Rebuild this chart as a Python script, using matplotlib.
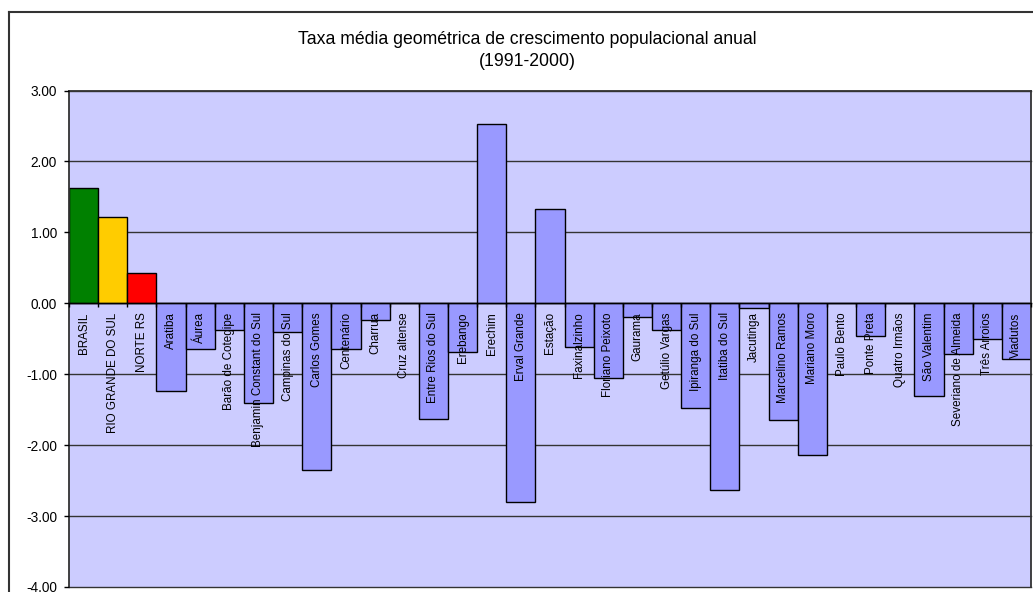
import matplotlib
matplotlib.use('Agg')
import matplotlib.pyplot as plt
from matplotlib.lines import Line2D
import numpy as np

categories = ["BRASIL", "RIO GRANDE DO SUL", "NORTE RS", "Aratiba", "Áurea",
              "Barão de Cotegipe", "Benjamin Constant do Sul", "Campinas do Sul",
              "Carlos Gomes", "Centenário", "Charrua", "Cruz altense",
              "Entre Rios do Sul", "Erebango", "Erechim", "Erval Grande", "Estação",
              "Faxinalzinho", "Floriano Peixoto", "Gaurama", "Getúlio Vargas",
              "Ipiranga do Sul", "Itatiba do Sul", "Jacutinga", "Marcelino Ramos",
              "Mariano Moro", "Paulo Bento", "Ponte Preta", "Quatro Irmãos",
              "São Valentim", "Severiano de Almeida", "Três Arroios", "Viadutos"]
values = [1.63, 1.21, 0.42, -1.24, -0.64,
          -0.38, -1.40, -0.40,
          -2.35, -0.64, -0.24, 0.0,
          -1.63, -0.68, 2.53, -2.80, 1.33,
          -0.61, -1.05, -0.19, -0.38,
          -1.48, -2.63, -0.06, -1.65,
          -2.14, 0.0, -0.46, 0.0,
          -1.31, -0.72, -0.51, -0.78]
highlight_colors = ["#008000", "#FFCC00", "#FF0000"]
default_color = "#9999FF"
yticks = [-4, -3, -2, -1, 0, 1, 2, 3]
title_lines = ["Taxa média geométrica de crescimento populacional anual", "(1991-2000)"]

plt.rcParams['font.family'] = ['Liberation Sans', 'DejaVu Sans']
plt.rcParams['axes.unicode_minus'] = False

W, H = 1033, 592
fig = plt.figure(figsize=(W / 100, H / 100), dpi=100)
fig.patch.set_facecolor('white')

left, right, top, bottom = 69, 1031, 90.5, 587
ax = fig.add_axes([left / W, 1 - bottom / H, (right - left) / W, (bottom - top) / H])
ax.set_facecolor('#CCCCFF')
ax.set_axisbelow(False)

n = len(categories)
x = np.arange(n)
bar_colors = highlight_colors + [default_color] * (n - len(highlight_colors))
ax.bar(x, values, width=1.0, color=bar_colors, edgecolor='black', linewidth=1.0, zorder=2)

for t in yticks:
    ax.axhline(t, color='#333333', lw=1.0, zorder=1, clip_on=False)

ax.set_xlim(-0.5, n - 0.5)
ax.set_ylim(min(yticks), max(yticks))
ax.set_yticks(yticks)
ax.set_yticklabels([f"{t:.2f}" for t in yticks], fontsize=9.8)
ax.tick_params(axis='y', length=3.6, width=1.0, direction='out', pad=5, colors='black')

ax.spines['bottom'].set_position(('data', 0))
ax.spines['bottom'].set_linewidth(1.0)
for s in ['top', 'left', 'right']:
    ax.spines[s].set_color('#333333')
    ax.spines[s].set_linewidth(1.3)

ax.set_xticks(x)
ax.set_xticklabels(categories, rotation=90, fontsize=8.4, va='top', ha='center')
ax.tick_params(axis='x', which='major', length=0, pad=6.5)
ax.set_xticks(np.arange(n + 1) - 0.5, minor=True)
ax.tick_params(axis='x', which='minor', length=3, width=1.0, direction='out')

fig.text(527 / W, 1 - 39 / H, title_lines[0], ha='center', va='center', fontsize=12.7)
fig.text(527 / W, 1 - 61.5 / H, title_lines[1], ha='center', va='center', fontsize=12.7)

# chart frame
fig.add_artist(Line2D([9 / W, 9 / W], [0, 1 - 12 / H], color='#333333', lw=1.5))
fig.add_artist(Line2D([9 / W, 1], [1 - 12 / H, 1 - 12 / H], color='#333333', lw=1.5))

fig.savefig('out.png', dpi=100)
